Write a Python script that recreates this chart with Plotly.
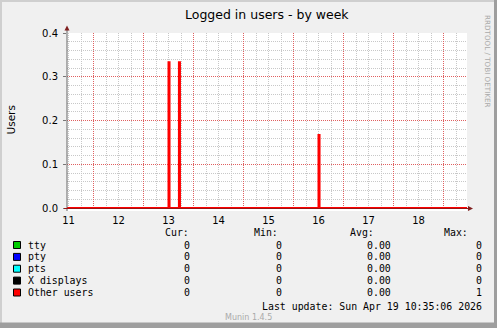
import plotly.graph_objects as go
import pandas as pd

# ---------------- data ----------------
x_start = "2026-04-11 11:16:48"
x_end = "2026-04-19 11:16:48"

series_names = ["tty", "pty", "pts", "X displays", "Other users"]
series_colors = ["#00CC00", "#0000FF", "#00FFFF", "#000000", "#FF0000"]

flat_times = ["2026-04-11 11:00", "2026-04-19 11:30"]
tty_values = [0, 0]
pty_values = [0, 0]
pts_values = [0, 0]
xdisp_values = [0, 0]

other_times = ["2026-04-11 11:00", "2026-04-13 12:00", "2026-04-13 12:30",
               "2026-04-13 17:00", "2026-04-13 17:30", "2026-04-16 12:00",
               "2026-04-16 12:30", "2026-04-19 11:30"]
other_values = [0, 0.333, 0, 0.333, 0, 0.167, 0, 0]

cur_vals = ["0", "0", "0", "0", "0"]
min_vals = ["0", "0", "0", "0", "0"]
avg_vals = ["0.00", "0.00", "0.00", "0.00", "0.00"]
max_vals = ["0", "0", "0", "0", "1"]

y_ticks = [0.0, 0.1, 0.2, 0.3, 0.4]

# minor grid positions (every 6 h / every 0.02, skipping the major ones)
six_hours = pd.date_range("2026-04-11 00:00", "2026-04-19 18:00", freq="6h")
x_minor = [t.strftime("%Y-%m-%d %H:%M") for t in six_hours if t.hour != 0]
y_minor = [round(0.02 * i, 2) for i in range(1, 21) if i % 5]

# ---------------- layout geometry ----------------
W, H = 497, 328
L, R, T, B = 67, 30, 33, 117
PW = W - L - R
PH = H - T - B


def px(x):
    return (x - L) / PW


def py(y):
    return (T + PH - y) / PH


fig = go.Figure()

all_x = [flat_times, flat_times, flat_times, flat_times, other_times]
all_y = [tty_values, pty_values, pts_values, xdisp_values, other_values]
for name, color, xs, ys in zip(series_names, series_colors, all_x, all_y):
    fig.add_trace(go.Scatter(x=xs, y=ys, mode="lines", name=name,
                             line=dict(color=color, width=2, shape="hv"),
                             showlegend=False, hoverinfo="skip"))

MAJ = "#E06060"
MIN = "#C8C8C8"

fig.update_layout(
    width=W, height=H, autosize=False,
    margin=dict(l=L, r=R, t=T, b=B, pad=0),
    paper_bgcolor="#F0F0F0", plot_bgcolor="#FFFFFF",
    font=dict(family="DejaVu Sans", size=10, color="#000000"),
    xaxis=dict(
        type="date", range=[x_start, x_end],
        tick0="2026-04-11 00:00", dtick=86400000,
        ticklabelmode="period", tickformat="%d",
        showgrid=True, gridcolor=MAJ, griddash="1px,1px", gridwidth=1,
        minor=dict(tickmode="array", tickvals=x_minor, showgrid=True,
                   gridcolor=MIN, griddash="1px,1px", gridwidth=1),
        ticks="", showline=False, zeroline=False,
        tickfont=dict(family="DejaVu Sans", size=10, color="#000000"),
        ticklabelstandoff=2,
    ),
    yaxis=dict(
        range=[-3 / 437.5, 0.4], tickvals=y_ticks, tickformat=".1f",
        showgrid=True, gridcolor=MAJ, griddash="1px,1px", gridwidth=1,
        minor=dict(tickmode="array", tickvals=y_minor, showgrid=True,
                   gridcolor=MIN, griddash="1px,1px", gridwidth=1),
        ticks="outside", ticklen=3, tickcolor="#777777", tickwidth=1,
        showline=False, zeroline=False,
        tickfont=dict(family="DejaVu Sans", size=10, color="#000000"),
        ticklabelstandoff=3,
    ),
)

shapes = []
# frame
shapes.append(dict(type="rect", xref="paper", yref="paper", x0=px(0), x1=px(W), y0=py(0), y1=py(2),
                   fillcolor="#CFCFCF", line=dict(width=0), layer="below"))
shapes.append(dict(type="rect", xref="paper", yref="paper", x0=px(0), x1=px(2), y0=py(0), y1=py(H),
                   fillcolor="#CFCFCF", line=dict(width=0), layer="below"))
shapes.append(dict(type="rect", xref="paper", yref="paper", x0=px(494), x1=px(W), y0=py(0), y1=py(H),
                   fillcolor="#9E9E9E", line=dict(width=0), layer="below"))
shapes.append(dict(type="rect", xref="paper", yref="paper", x0=px(0), x1=px(W), y0=py(322.5), y1=py(H),
                   fillcolor="#9E9E9E", line=dict(width=0), layer="below"))
# cover grid below the zero line
shapes.append(dict(type="rect", xref="paper", yref="paper", x0=0, x1=1, y0=0, y1=py(209),
                   fillcolor="#FFFFFF", line=dict(width=0), layer="above"))
# axes
shapes.append(dict(type="line", xref="paper", yref="paper", x0=px(67), x1=px(67), y0=py(211), y1=py(29),
                   line=dict(color="#666666", width=1), layer="above"))
shapes.append(dict(type="line", xref="paper", yref="paper", x0=px(64), x1=px(469), y0=py(208.5), y1=py(208.5),
                   line=dict(color="#9A1515", width=1), layer="above"))
# arrows
shapes.append(dict(type="path", xref="paper", yref="paper",
                   path=f"M {px(64.5)} {py(30.5)} L {px(69.5)} {py(30.5)} L {px(67)} {py(25.5)} Z",
                   fillcolor="#7F1F1F", line=dict(width=0), layer="above"))
shapes.append(dict(type="path", xref="paper", yref="paper",
                   path=f"M {px(468)} {py(206)} L {px(468)} {py(211)} L {px(473)} {py(208.5)} Z",
                   fillcolor="#7F1F1F", line=dict(width=0), layer="above"))

annotations = []


def ann(text, x, y, xanchor="left", size=9.9, family="DejaVu Sans Mono", color="#000000", angle=0):
    annotations.append(dict(text=text, x=px(x), y=py(y), xref="paper", yref="paper",
                            xanchor=xanchor, yanchor="middle", showarrow=False,
                            borderpad=0, textangle=angle,
                            font=dict(family=family, size=size, color=color)))


ann("Logged in users - by week", 267, 14, xanchor="center", size=12.5, family="DejaVu Sans")
ann("Users", 10, 120.5, xanchor="center", size=10.5, family="DejaVu Sans", angle=-90)
ann("RRDTOOL / TOBI OETIKER", 488, 61, xanchor="center", size=7.2, family="DejaVu Sans",
    color="#AAAAAA", angle=90)

# legend table
header_y = 232
ann("Cur:", 190, header_y, xanchor="right")
ann("Min:", 279, header_y, xanchor="right")
ann("Avg:", 375, header_y, xanchor="right")
ann("Max:", 469, header_y, xanchor="right")
row_ys = [245, 256.9, 268.7, 280.6, 292.5]
for i, name in enumerate(series_names):
    yy = row_ys[i]
    shapes.append(dict(type="rect", xref="paper", yref="paper",
                       x0=px(13.5), x1=px(20.5), y0=py(yy - 3.5), y1=py(yy + 3.5),
                       fillcolor=series_colors[i], line=dict(color="#000000", width=1), layer="above"))
    ann(name, 27, yy)
    ann(cur_vals[i], 191, yy, xanchor="right")
    ann(min_vals[i], 283, yy, xanchor="right")
    ann(avg_vals[i], 392, yy, xanchor="right")
    ann(max_vals[i], 483, yy, xanchor="right")

ann("Last update: Sun Apr 19 10:35:06 2026", 483, 306, xanchor="right")
ann("Munin 1.4.5", 224, 317, size=8, family="DejaVu Sans", color="#AAAAAA")

fig.update_layout(shapes=shapes, annotations=annotations)
fig.write_html("out.html")
